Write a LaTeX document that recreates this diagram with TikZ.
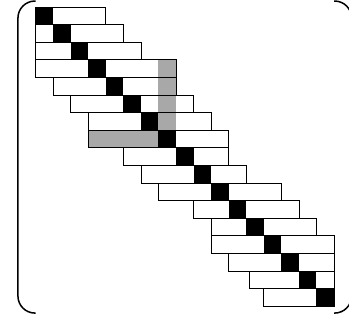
\documentclass[tikz,border=0pt]{standalone}
\definecolor{fillgray}{RGB}{168,168,168}
\tikzset{
    rowband/.style={draw, line width=0.7pt},
    pivot/.style={fill=black},
    fillin/.style={fill=fillgray},
    bracket/.style={line width=1.5pt, rounded corners=17pt}
}
\begin{document}
\begin{tikzpicture}[x=17.56pt, y=-17.6pt]
        \clip (-2.022,-0.398) rectangle (17.853,17.898);

        % Fill-in
        \fill[fillin] (7,3) rectangle (8,7);
        \fill[fillin] (3,7) rectangle (7,8);

        % Rows: row/first column/last column
        \foreach \r/\a/\b in {0/0/4, 1/0/5, 2/0/6, 3/0/8, 4/1/8, 5/2/9,
                6/3/10, 7/3/11, 8/5/11, 9/6/12, 10/7/14, 11/9/15, 12/10/16,
                13/10/17, 14/11/17, 15/12.2/17, 16/13/17} {
            \draw[rowband] (\a,\r) rectangle (\b,\r+1);
            \fill[pivot] (\r,\r) rectangle ++(1,1);
        }

        % Brackets
        \draw[bracket] (0,-0.34) -- (-1,-0.34) -- (-1,17.39) -- (0,17.39);
        \draw[bracket] (17,-0.34) -- (18,-0.34) -- (18,17.39) -- (17,17.39);
    \end{tikzpicture}
\end{document}
